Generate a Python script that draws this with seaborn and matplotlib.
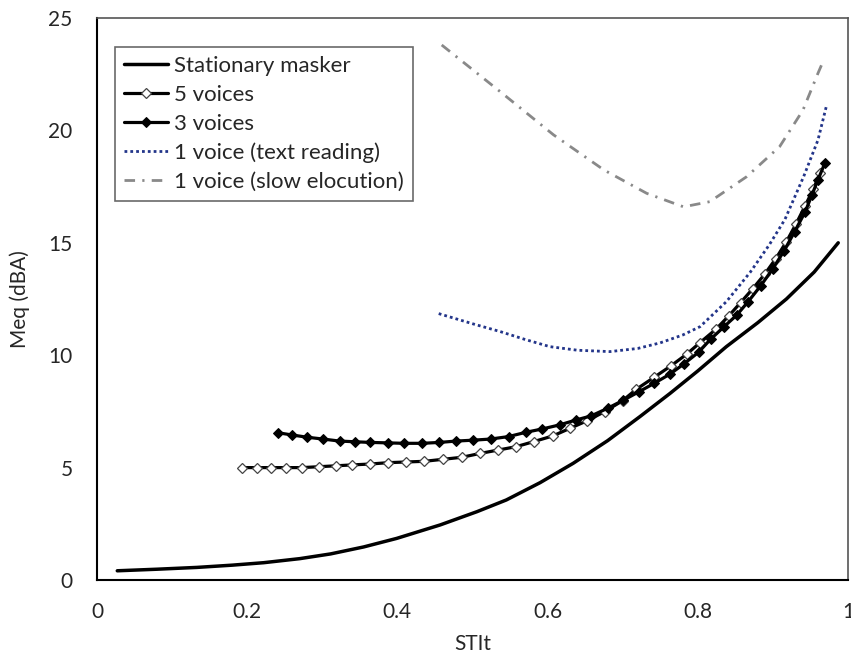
import matplotlib
matplotlib.use("Agg")
import matplotlib.pyplot as plt
import seaborn as sns

# ---- data ----
stat_x = [0.027, 0.08, 0.133, 0.18, 0.222, 0.27, 0.311, 0.355, 0.399, 0.457,
          0.506, 0.545, 0.59, 0.634, 0.68, 0.723, 0.763, 0.80, 0.838, 0.88,
          0.918, 0.955, 0.987]
stat_y = [0.41, 0.48, 0.56, 0.66, 0.77, 0.95, 1.16, 1.47, 1.85, 2.45,
          3.04, 3.56, 4.33, 5.19, 6.2, 7.27, 8.3, 9.3, 10.38, 11.45,
          12.5, 13.7, 15.0]

v5_x = [0.193, 0.213, 0.232, 0.252, 0.273, 0.296, 0.318, 0.340, 0.364, 0.388,
        0.412, 0.436, 0.461, 0.486, 0.510, 0.534, 0.558, 0.582, 0.607, 0.630,
        0.653, 0.676, 0.700, 0.718, 0.742, 0.764, 0.785, 0.803, 0.824, 0.841,
        0.857, 0.873, 0.889, 0.904, 0.918, 0.931, 0.943, 0.954, 0.963]
v5_y = [5.0, 5.0, 5.0, 5.0, 5.0, 5.04, 5.08, 5.12, 5.16, 5.22,
        5.25, 5.28, 5.37, 5.46, 5.63, 5.78, 5.93, 6.16, 6.41, 6.75,
        7.09, 7.49, 7.98, 8.48, 9.02, 9.52, 10.04, 10.56, 11.15, 11.74,
        12.34, 12.95, 13.6, 14.3, 15.05, 15.85, 16.65, 17.4, 18.1]

v3_x = [0.241, 0.260, 0.280, 0.301, 0.323, 0.343, 0.364, 0.387, 0.409, 0.433,
        0.456, 0.478, 0.501, 0.524, 0.548, 0.571, 0.593, 0.616, 0.638, 0.658,
        0.680, 0.701, 0.722, 0.742, 0.763, 0.781, 0.801, 0.817, 0.835, 0.852,
        0.867, 0.884, 0.900, 0.915, 0.929, 0.943, 0.952, 0.960, 0.969]
v3_y = [6.55, 6.45, 6.35, 6.27, 6.18, 6.15, 6.12, 6.10, 6.08, 6.08,
        6.12, 6.18, 6.22, 6.27, 6.38, 6.57, 6.72, 6.90, 7.12, 7.30,
        7.64, 8.0, 8.38, 8.75, 9.16, 9.6, 10.13, 10.71, 11.27, 11.79,
        12.38, 13.1, 13.85, 14.65, 15.5, 16.38, 17.13, 17.8, 18.53]

txt_x = [0.455, 0.50, 0.537, 0.57, 0.603, 0.64, 0.683, 0.72, 0.75, 0.78,
         0.803, 0.838, 0.87, 0.895, 0.916, 0.941, 0.96, 0.971]
txt_y = [11.85, 11.4, 11.05, 10.7, 10.38, 10.22, 10.16, 10.3, 10.55, 10.9,
         11.27, 12.38, 13.7, 14.9, 16.04, 17.95, 19.57, 21.05]

slow_x = [0.459, 0.537, 0.608, 0.675, 0.732, 0.781, 0.816, 0.865, 0.909, 0.940,
          0.960, 0.968]
slow_y = [23.8, 21.72, 19.8, 18.24, 17.2, 16.6, 16.83, 17.94, 19.28, 20.9,
          22.54, 23.16]

labels = ["Stationary masker", "5 voices", "3 voices",
          "1 voice (text reading)", "1 voice (slow elocution)"]
x_ticks = [0, 0.2, 0.4, 0.6, 0.8, 1]
x_tick_labels = ["0", "0.2", "0.4", "0.6", "0.8", "1"]
y_ticks = [0, 5, 10, 15, 20, 25]

sns.set_style("white")
plt.rcParams["font.family"] = ["Lato", "DejaVu Sans"]

FS = 15

fig = plt.figure(figsize=(8.51, 6.61), dpi=100)
ax = fig.add_axes([97 / 851, 81 / 661, 751 / 851, 562 / 661])

sns.lineplot(x=stat_x, y=stat_y, ax=ax, color="black", lw=2.5, sort=False,
             estimator=None, label=labels[0])
sns.lineplot(x=v5_x, y=v5_y, ax=ax, color="black", lw=2.3, sort=False,
             estimator=None, marker="D", markersize=5, markerfacecolor="white",
             markeredgecolor="#444444", markeredgewidth=0.9, label=labels[1])
sns.lineplot(x=v3_x, y=v3_y, ax=ax, color="black", lw=2.3, sort=False,
             estimator=None, marker="D", markersize=4.6, markerfacecolor="black",
             markeredgecolor="black", label=labels[2])
sns.lineplot(x=txt_x, y=txt_y, ax=ax, color="#23358a", lw=2.0, sort=False,
             estimator=None, linestyle=(0, (1, 1.1)), label=labels[3])
sns.lineplot(x=slow_x, y=slow_y, ax=ax, color="#898989", lw=2.0, sort=False,
             estimator=None, linestyle=(0, (3.8, 2.6, 0.8, 2.6)), label=labels[4])

ax.set_xlim(0, 1)
ax.set_ylim(0, 25)
ax.set_xticks(x_ticks)
ax.set_xticklabels(x_tick_labels)
ax.set_yticks(y_ticks)
ax.tick_params(axis="both", direction="out", length=5.5, width=1.3,
               color="black", labelsize=FS)
ax.tick_params(axis="x", pad=10)
ax.tick_params(axis="y", pad=12)
ax.set_xlabel("STIt", fontsize=FS, labelpad=9)
ax.set_ylabel("Meq (dBA)", fontsize=FS, labelpad=13)
for side in ["left", "bottom"]:
    ax.spines[side].set_color("black")
    ax.spines[side].set_linewidth(1.5)
for side in ["top", "right"]:
    ax.spines[side].set_color("#555555")
    ax.spines[side].set_linewidth(1.2)

leg = ax.legend(loc="upper left", bbox_to_anchor=(18 / 751, 1 - 29 / 562),
                fontsize=16, frameon=True, fancybox=False, handlelength=2.0,
                handletextpad=0.25, borderpad=0.4, labelspacing=0.4,
                borderaxespad=0)
leg.get_frame().set_edgecolor("#444444")
leg.get_frame().set_linewidth(1.2)

fig.savefig("out.png", dpi=100)
